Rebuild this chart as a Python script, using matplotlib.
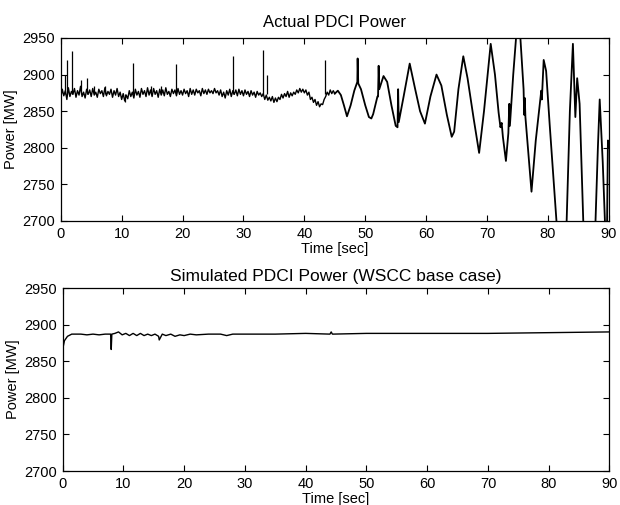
import numpy as np
import matplotlib
matplotlib.use("Agg")
import matplotlib.pyplot as plt

plt.rcParams['font.family'] = ['Liberation Sans', 'DejaVu Sans']

# measured PDCI power, quiet part 0..45 s, one value every 0.25 s
quiet_p = [
    2868, 2880, 2871, 2878, 2866, 2882, 2870, 2877, 2873, 2881, 2869, 2878, 2872, 2884, 2870, 2876, 2868, 2880, 2873, 2879,
    2870, 2881, 2872, 2876, 2869, 2880, 2874, 2878, 2870, 2882, 2871, 2877, 2873, 2880, 2869, 2878, 2872, 2881, 2870, 2876,
    2866, 2874, 2864, 2872, 2867, 2878, 2870, 2876, 2868, 2880, 2872, 2877, 2869, 2881, 2873, 2878, 2870, 2882, 2872, 2879,
    2870, 2881, 2873, 2878, 2869, 2880, 2872, 2879, 2871, 2882, 2873, 2877, 2870, 2880, 2874, 2879, 2871, 2881, 2873, 2878,
    2872, 2880, 2874, 2878, 2870, 2881, 2873, 2879, 2872, 2880, 2875, 2878, 2871, 2881, 2874, 2879, 2873, 2880, 2875, 2878,
    2874, 2881, 2875, 2878, 2872, 2879, 2870, 2876, 2868, 2878, 2872, 2880, 2870, 2878, 2873, 2879, 2871, 2880, 2873, 2878,
    2871, 2879, 2873, 2877, 2870, 2878, 2872, 2876, 2869, 2877, 2872, 2875, 2870, 2874, 2866, 2872, 2865, 2869, 2864, 2870,
    2862, 2868, 2863, 2869, 2866, 2873, 2868, 2874, 2870, 2877, 2869, 2875, 2871, 2876, 2873, 2879, 2875, 2881, 2876, 2880,
    2875, 2879, 2872, 2876, 2866, 2869, 2862, 2866, 2858, 2863, 2856, 2860, 2859, 2866, 2870, 2876, 2872, 2879, 2874, 2878,
    2874,
]
quiet_t = np.arange(len(quiet_p)) * 0.25

# short spikes on top of the quiet part
spike_t = [0.7, 1.1, 1.85, 3.4, 4.3, 5.5, 7.2, 10.5, 11.8, 14.8, 16.5,
           18.9, 28.3, 33.2, 33.8, 43.4]
spike_p = [2900, 2920, 2932, 2893, 2895, 2885, 2884, 2862, 2916, 2884, 2885,
           2915, 2926, 2933, 2900, 2920]
spike_base = 2874

# growing oscillation 45..90 s
swing_t = [45.0, 45.5, 46.0, 46.5, 47.0, 47.6, 48.2, 48.7, 48.75, 48.85,
           49.3, 50.0, 50.6, 51.0, 51.3, 52.0, 52.1, 52.2, 52.3, 53.0,
           53.6, 54.3, 55.0, 55.3, 55.4, 55.5, 56.3, 57.3, 58.2, 59.0,
           59.8, 60.7, 61.7, 62.5, 63.4, 64.2, 64.6, 65.3, 66.1, 66.8,
           67.8, 68.7, 69.5, 70.6, 71.3, 71.9, 72.2, 72.4, 72.6, 73.1,
           73.5, 73.65, 73.75, 74.3, 74.9, 75.4, 76.0, 76.1, 76.2, 76.3,
           77.3, 78.0, 78.8, 78.9, 79.0, 79.3, 79.7, 80.3, 81.4, 82.0,
           83.0, 83.6, 84.1, 84.5, 84.8, 85.2, 85.8, 86.5, 87.5, 88.2,
           88.5, 89.0, 89.4, 89.7, 89.85, 90.0]
swing_p = [2874, 2878, 2872, 2858, 2843, 2858, 2878, 2890, 2922, 2888,
           2880, 2858, 2842, 2840, 2846, 2870, 2870, 2912, 2880, 2898,
           2890, 2858, 2830, 2828, 2880, 2835, 2870, 2915, 2880, 2850,
           2833, 2870, 2900, 2885, 2845, 2815, 2822, 2880, 2925, 2895,
           2840, 2793, 2850, 2942, 2900, 2848, 2828, 2834, 2815, 2782,
           2820, 2860, 2830, 2900, 2965, 2960, 2880, 2845, 2868, 2842,
           2740, 2810, 2870, 2878, 2866, 2920, 2905, 2830, 2700, 2620,
           2680, 2850, 2942, 2842, 2895, 2860, 2700, 2620, 2620, 2800,
           2866, 2780, 2690, 2690, 2810, 2800]

# simulated PDCI power (WSCC base case)
sim_t = [0, 0.3, 0.8, 1.5, 2, 3, 4, 5, 6, 7, 7.9, 8.0, 8.1, 8.6, 9.2, 9.8,
         10.4, 11, 11.6, 12.2, 12.8, 13.4, 14, 14.6, 15.2, 15.8, 15.9, 16.4,
         17, 17.8, 18.5, 19.3, 20, 21, 22, 24, 26, 27, 28, 30, 35, 40, 44,
         44.2, 44.4, 50, 60, 70, 80, 90]
sim_p = [2866, 2878, 2884, 2887, 2887, 2887, 2886, 2887, 2886, 2887, 2887,
         2866, 2887, 2888, 2890, 2886, 2888, 2885, 2888, 2885, 2888, 2885,
         2887, 2885, 2887, 2884, 2879, 2887, 2885, 2887, 2884, 2886, 2885,
         2887, 2886, 2887, 2887, 2885, 2887, 2887, 2887, 2888, 2887, 2890,
         2887, 2888, 2888, 2888, 2889, 2890]

x_ticks = np.arange(0, 91, 10)
y_ticks = np.arange(2700, 2951, 50)


def style_axes(ax):
    ax.set_xlim(0, 90)
    ax.set_ylim(2700, 2950)
    ax.set_xticks(x_ticks)
    ax.set_yticks(y_ticks)
    ax.tick_params(direction='in', top=True, right=True, length=4,
                   width=0.8, labelsize=10.5, pad=4)
    for s in ax.spines.values():
        s.set_linewidth(0.9)
    ax.set_xlabel("Time [sec]", fontsize=10.5, labelpad=1)
    ax.set_ylabel("Power [MW]", fontsize=10.5, labelpad=3)


fig = plt.figure(figsize=(6.2, 5.05), dpi=100)
ax1 = fig.add_axes([0.098, 0.5624, 0.884, 0.3624])
ax2 = fig.add_axes([0.101, 0.0673, 0.882, 0.3624])

ax1.plot(quiet_t, quiet_p, color='black', lw=1.0)
ax1.vlines(spike_t, spike_base, spike_p, color='black', lw=0.9)
ax1.plot(swing_t, swing_p, color='black', lw=1.3)
style_axes(ax1)
ax1.set_title("Actual PDCI Power", fontsize=12, pad=8)

ax2.plot(sim_t, sim_p, color='black', lw=1.0)
style_axes(ax2)
ax2.set_title("Simulated PDCI Power (WSCC base case)", fontsize=12.5, pad=5)

fig.savefig("out.png", dpi=100)
